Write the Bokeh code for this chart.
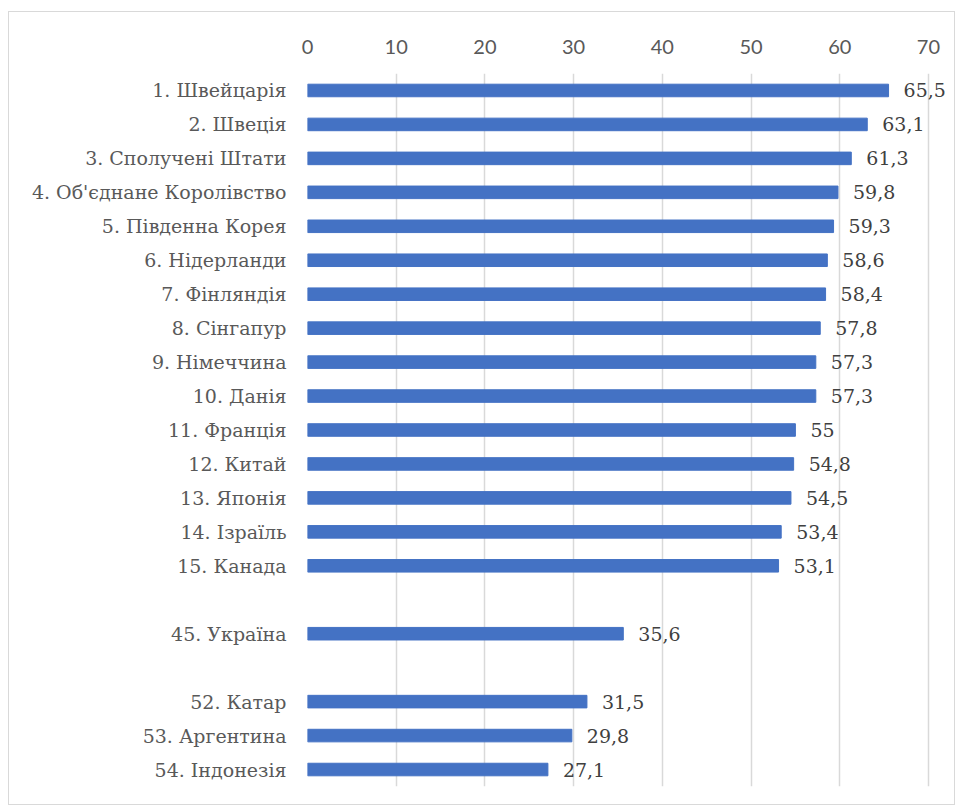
from bokeh.plotting import figure
from bokeh.models import FactorRange, Range1d, FixedTicker, ColumnDataSource
from bokeh.core.properties import value
from bokeh.embed import file_html
from bokeh.resources import INLINE

# ---- data ----
countries = ["1. Швейцарія", "2. Швеція", "3. Сполучені Штати", "4. Об'єднане Королівство",
             "5. Південна Корея", "6. Нідерланди", "7. Фінляндія", "8. Сінгапур",
             "9. Німеччина", "10. Данія", "11. Франція", "12. Китай", "13. Японія",
             "14. Ізраїль", "15. Канада", "45. Україна", "52. Катар", "53. Аргентина",
             "54. Індонезія"]
scores = [65.5, 63.1, 61.3, 59.8, 59.3, 58.6, 58.4, 57.8, 57.3, 57.3, 55, 54.8, 54.5,
          53.4, 53.1, 35.6, 31.5, 29.8, 27.1]
x_ticks = [0, 10, 20, 30, 40, 50, 60, 70]

# row order top -> bottom with blank gap rows
rows = countries[:15] + [" "] + [countries[15]] + ["  "] + countries[16:]

labels = [f"{v:g}".replace(".", ",") for v in scores]
src = ColumnDataSource(dict(y=countries, x=scores, lab=labels))

p = figure(width=947, height=794, output_backend="svg", toolbar_location=None,
           y_range=FactorRange(*reversed(rows)), x_range=Range1d(0, 73.16),
           x_axis_location="above",
           min_border_left=298, min_border_right=0, min_border_top=61, min_border_bottom=20)
p.styles = {"border": "1px solid #D9D9D9", "margin-left": "8px", "margin-top": "11px"}
p.outline_line_color = None

p.hbar(y="y", right="x", left=0, height=0.37, color="#4472C4", source=src)
p.text(x="x", y="y", text="lab", source=src, x_offset=15, text_baseline="middle",
       text_align="left", text_font=value("DejaVu Serif"), text_font_size="19px",
       text_color="#404040")

xa = p.xaxis[0]
xa.ticker = FixedTicker(ticks=x_ticks)
xa.axis_line_color = None
xa.major_tick_line_color = None
xa.minor_tick_line_color = None
xa.major_tick_out = 0
xa.major_label_standoff = 20
xa.major_label_text_font = "Lato"
xa.major_label_text_font_size = "20px"
xa.major_label_text_color = "#595959"

ya = p.yaxis[0]
ya.axis_line_color = None
ya.major_tick_line_color = None
ya.minor_tick_line_color = None
ya.major_tick_out = 0
ya.major_label_standoff = 21
ya.major_label_text_font = "DejaVu Serif"
ya.major_label_text_font_size = "19px"
ya.major_label_text_color = "#595959"

p.ygrid.grid_line_color = None
p.xgrid.grid_line_color = "#D9D9D9"
p.xgrid.grid_line_width = 1.5

open("out.html", "w").write(file_html(p, INLINE))
